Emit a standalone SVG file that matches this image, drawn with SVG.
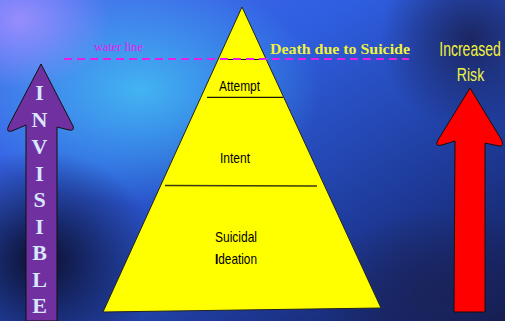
<svg xmlns="http://www.w3.org/2000/svg" width="505" height="321" viewBox="0 0 505 321">
<defs>
<linearGradient id="bg" x1="0" y1="0" x2="1" y2="1">
<stop offset="0" stop-color="#4a70f0"/>
<stop offset="0.35" stop-color="#2f5ee0"/>
<stop offset="0.7" stop-color="#1e3b9a"/>
<stop offset="1" stop-color="#141c50"/>
</linearGradient>
<radialGradient id="cyan" cx="0.5" cy="0.5" r="0.5">
<stop offset="0" stop-color="#46c8f5" stop-opacity="0.8"/>
<stop offset="1" stop-color="#46c8f5" stop-opacity="0"/>
</radialGradient>
<radialGradient id="violet" cx="0.5" cy="0.5" r="0.5">
<stop offset="0" stop-color="#a090ff" stop-opacity="0.9"/>
<stop offset="1" stop-color="#a090ff" stop-opacity="0"/>
</radialGradient>
<radialGradient id="dark" cx="0.5" cy="0.5" r="0.5">
<stop offset="0" stop-color="#0a0a25" stop-opacity="0.95"/>
<stop offset="1" stop-color="#0a0a25" stop-opacity="0"/>
</radialGradient>
<radialGradient id="navy" cx="0.5" cy="0.5" r="0.5">
<stop offset="0" stop-color="#1a2258" stop-opacity="0.9"/>
<stop offset="1" stop-color="#1a2258" stop-opacity="0"/>
</radialGradient>
<style>
.lbl{font-family:"Liberation Sans",Arial,sans-serif;fill:#000;font-size:15px;text-anchor:middle}
.inv{font-family:"Liberation Serif","Times New Roman",serif;font-weight:bold;fill:#d8e6ff;font-size:22px;text-anchor:middle}
.yel{fill:#f2f23a}
.div{stroke:#1a1a00;stroke-width:1.2}
</style>
</defs>
<g id="background">
<rect width="505" height="321" fill="url(#bg)"/>
<ellipse cx="140" cy="90" rx="180" ry="115" fill="url(#cyan)"/>
<ellipse cx="20" cy="20" rx="90" ry="70" fill="url(#violet)"/>
<ellipse cx="40" cy="260" rx="120" ry="110" fill="url(#dark)"/>
<ellipse cx="470" cy="40" rx="90" ry="90" fill="url(#navy)"/>
<ellipse cx="440" cy="290" rx="120" ry="80" fill="url(#navy)"/>
</g>
<g id="pyramid">
<polygon points="242,7 381,308 103,312" fill="#ffff00" stroke="#222" stroke-width="1"/>
<line class="div" x1="221" y1="59.5" x2="259" y2="59.5"/>
<line class="div" x1="207" y1="97.3" x2="283" y2="97.3"/>
<line x1="165" y1="185.5" x2="317" y2="186" stroke="#3a3a10" stroke-width="1.6"/>
<text class="lbl" x="239.5" y="91" textLength="41" lengthAdjust="spacingAndGlyphs">Attempt</text>
<text class="lbl" x="235" y="163" textLength="30" lengthAdjust="spacingAndGlyphs">Intent</text>
<text class="lbl" x="236" y="242" textLength="42" lengthAdjust="spacingAndGlyphs">Suicidal</text>
<text class="lbl" x="236" y="264" textLength="42" lengthAdjust="spacingAndGlyphs"><tspan font-weight="bold">I</tspan>deation</text>
</g>
<g id="waterline">
<line x1="64" y1="59" x2="409" y2="59" stroke="#e81ee8" stroke-width="2" stroke-dasharray="8,5"/>
<text x="118.5" y="51" font-family="Liberation Serif,'Times New Roman',serif" font-size="13" fill="#e020f0" text-anchor="middle" textLength="49" lengthAdjust="spacingAndGlyphs">water line</text>
</g>
<g id="death">
<text x="340" y="54" class="yel" font-family="Liberation Serif,'Times New Roman',serif" font-weight="bold" font-size="15.5" text-anchor="middle" textLength="140" lengthAdjust="spacingAndGlyphs">Death due to Suicide</text>
</g>
<g id="invisible-arrow">
<path d="M41,64 L73,126 Q75,131 69,130 L57,127 L57,321 L26,321 L26,125 L12,131 Q5,133 9,125 Z" fill="#7030a0" stroke="#111" stroke-width="1"/>
<text class="inv" x="39.5" y="100">I</text>
<text class="inv" x="39.5" y="127">N</text>
<text class="inv" x="39.5" y="154">V</text>
<text class="inv" x="39.5" y="181">I</text>
<text class="inv" x="39.5" y="207">S</text>
<text class="inv" x="39.5" y="234">I</text>
<text class="inv" x="39.5" y="260">B</text>
<text class="inv" x="39.5" y="287">L</text>
<text class="inv" x="39.5" y="313">E</text>
</g>
<g id="risk-arrow">
<text transform="translate(470,56) scale(0.7,1)" x="0" y="0" class="yel" font-family="Liberation Sans,Arial,sans-serif" font-size="20" text-anchor="middle">Increased</text>
<text transform="translate(470.5,81) scale(0.78,1)" x="0" y="0" class="yel" font-family="Liberation Sans,Arial,sans-serif" font-size="18" text-anchor="middle">Risk</text>
<path d="M470,88 L501,139 Q505,147 499,146 L485,143 L485,312 L454,312 L455,141 L442,145 Q434,147 438,140 Z" fill="#ff0000" stroke="#111" stroke-width="1"/>
</g>
</svg>
